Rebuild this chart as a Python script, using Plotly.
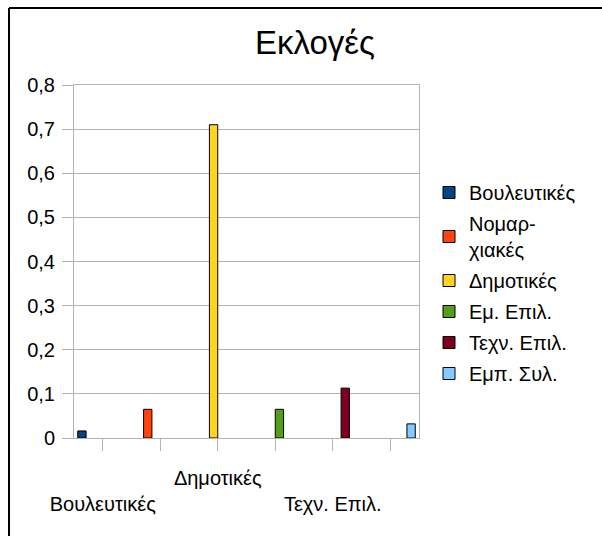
import plotly.graph_objects as go

# data
categories = ["Βουλευτικές", "Νομαρχιακές", "Δημοτικές", "Εμ. Επιλ.", "Τεχν. Επιλ.", "Εμπ. Συλ."]
legend_names = ["Βουλευτικές", "Νομαρ-<br>χιακές", "Δημοτικές", "Εμ. Επιλ.", "Τεχν. Επιλ.", "Εμπ. Συλ."]
values = [0.016, 0.065, 0.71, 0.065, 0.113, 0.032]
# staggered category labels, only every other one is shown
tick_labels = ["<br>Βουλευτικές", "", "Δημοτικές", "", "<br>Τεχν. Επιλ.", ""]

colors = ["#004586", "#ff420e", "#ffd320", "#579d1c", "#7e0021", "#83caff"]
FONT = "Liberation Sans, Arial, sans-serif"
GRID = "#b3b3b3"

W, H = 602, 536
L, R, T, B = 74, 183, 85, 98
pw, ph = W - L - R, H - T - B


def px_x(x):
    return (x - L) / pw


def px_y(y):
    return (H - B - y) / ph


fig = go.Figure()
for i, cat in enumerate(categories):
    fig.add_trace(go.Bar(
        x=[cat], y=[values[i]], name=legend_names[i],
        legendgroup=str(i), offsetgroup=str(i),
        marker=dict(color=colors[i], line=dict(color="black", width=1)),
    ))

fig.update_layout(
    width=W, height=H,
    margin=dict(l=L, r=R, t=T, b=B),
    paper_bgcolor="white", plot_bgcolor="white",
    font=dict(family=FONT, size=20, color="black"),
    separators=",.",
    barmode="group", bargap=0.13, bargroupgap=0,
    title=dict(text="Εκλογές", font=dict(size=33, color="black"),
               x=315 / W, xanchor="center", y=1 - 42 / H, yanchor="middle"),
    legend=dict(x=px_x(429), xanchor="left", y=px_y(173), yanchor="top",
                font=dict(size=20), tracegroupgap=2, bgcolor="rgba(0,0,0,0)"),
    showlegend=True,
)

fig.update_yaxes(range=[0, 0.8], dtick=0.1, showgrid=True, gridcolor=GRID, gridwidth=1,
                 showline=True, linecolor=GRID, linewidth=1, mirror=True,
                 ticks="outside", ticklen=11, tickcolor=GRID, zeroline=False,
                 ticklabelstandoff=3, tickfont=dict(size=20))

fig.update_xaxes(type="category", categoryorder="array", categoryarray=categories,
                 range=[-0.5, 5.5], tickvals=categories, ticktext=tick_labels,
                 showline=True, linecolor=GRID, linewidth=1, mirror=True,
                 ticks="outside", ticklen=12, tickcolor=GRID, showgrid=False,
                 ticklabelstandoff=10, tickfont=dict(size=20))

# cropped frame: only the top and left edges are visible
fig.add_shape(type="line", xref="paper", yref="paper",
              x0=px_x(9), y0=px_y(8), x1=px_x(W + 5), y1=px_y(8),
              line=dict(color="black", width=2))
fig.add_shape(type="line", xref="paper", yref="paper",
              x0=px_x(9), y0=px_y(8), x1=px_x(9), y1=px_y(H + 5),
              line=dict(color="black", width=2))

fig.write_html("out.html", config={"displayModeBar": False},
               post_script="document.body.style.margin='0px';")
